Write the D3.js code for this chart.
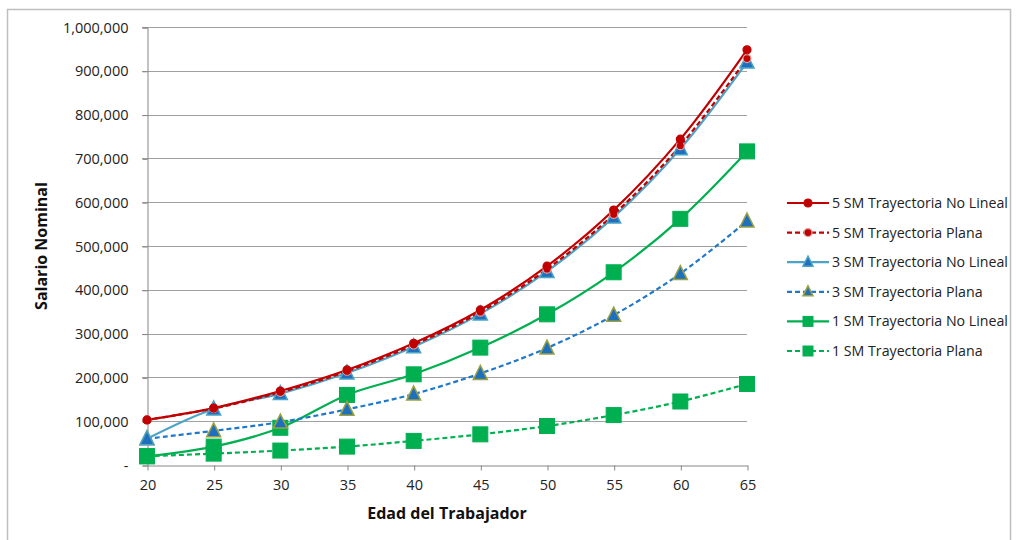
<!DOCTYPE html>
<html><head><meta charset="utf-8">
<script src="https://cdn.jsdelivr.net/npm/d3@7"></script>
<style>body{margin:0;background:#fff}text{font-family:"Open Sans","Noto Sans",sans-serif}</style>
</head><body><svg id="c" width="1016" height="540"></svg>
<script>
const ages = [20,25,30,35,40,45,50,55,60,65];
const yTicks = [0,100000,200000,300000,400000,500000,600000,700000,800000,900000,1000000];
const s5NoLineal = [103000,130000,169000,217000,278000,354000,454000,582000,744000,948000];
const s5Plana    = [103000,129000,166000,214000,274000,349000,447000,572000,729000,928000];
const s3NoLineal = [60000,128000,163000,210000,270000,345000,442000,566000,722000,920000];
const s3Plana    = [60000,78000,98000,127000,162000,209000,267000,342000,437000,557000];
const s1NoLineal = [20000,42000,85000,160000,207000,268000,344000,440000,562000,716000];
const s1Plana    = [20000,26000,33000,42000,55000,70000,89000,114000,145000,185000];
const names = ["5 SM Trayectoria No Lineal","5 SM Trayectoria Plana","3 SM Trayectoria No Lineal","3 SM Trayectoria Plana","1 SM Trayectoria No Lineal","1 SM Trayectoria Plana"];

const series = [
 {name:names[0], v:s5NoLineal, color:"#C00000", dash:null, marker:"circle", mfill:"#C00000", mstroke:"#C00000", ms:4},
 {name:names[1], v:s5Plana, color:"#C00000", dash:"5,3", marker:"circle", mfill:"#C00000", mstroke:"#E6A0A0", ms:4},
 {name:names[2], v:s3NoLineal, color:"#4BA3C6", dash:null, marker:"triangle", mfill:"#1F6FBF", mstroke:"#4BA3C6", ms:7},
 {name:names[3], v:s3Plana, color:"#1F78C8", dash:"5,3", marker:"triangle", mfill:"#1F6FBF", mstroke:"#9BA040", ms:7},
 {name:names[4], v:s1NoLineal, color:"#00B050", dash:null, marker:"square", mfill:"#00B050", mstroke:"#00B050", ms:7.5},
 {name:names[5], v:s1Plana, color:"#00B050", dash:"5,3", marker:"square", mfill:"#00B050", mstroke:"#00B050", ms:7.5}
];

const svg = d3.select("#c");
svg.append("rect").attr("x",7.5).attr("y",9.5).attr("width",1003).attr("height",540).attr("fill","none").attr("stroke","#BFBFBF").attr("stroke-width",1.5);

const x = d3.scaleLinear().domain([20,65]).range([147,747]);
const y = d3.scaleLinear().domain([0,1000000]).range([465,27]);

// gridlines
svg.append("g").selectAll("line").data(yTicks.slice(1)).join("line")
  .attr("x1",142).attr("x2",747).attr("y1",d=>Math.round(y(d))+0.5).attr("y2",d=>Math.round(y(d))+0.5)
  .attr("stroke","#A0A0A0").attr("stroke-width",1);

const fmt = d => d===0 ? "-" : d3.format(",")(d);
const ya = svg.append("g").attr("transform","translate(147.5,0.5)")
  .call(d3.axisLeft(y).tickValues(yTicks).tickFormat(fmt).tickSize(5).tickPadding(14));
ya.select(".domain").attr("stroke","#868686");
ya.selectAll(".tick line").attr("stroke","#868686");
ya.selectAll("text").attr("font-size",14.5).attr("fill","#222");

const xa = svg.append("g").attr("transform","translate(0.5,465.5)")
  .call(d3.axisBottom(x).tickValues(ages).tickSize(5).tickPadding(9).tickSizeOuter(0));
xa.select(".domain").attr("stroke","#868686");
xa.selectAll(".tick line").attr("stroke","#868686");
xa.selectAll("text").attr("font-size",14.5).attr("fill","#222");

svg.append("text").attr("transform","translate(47,246) rotate(-90)").attr("text-anchor","middle")
  .attr("font-size",16).attr("font-weight","bold").attr("fill","#111").text("Salario Nominal");
svg.append("text").attr("x",447).attr("y",519).attr("text-anchor","middle")
  .attr("font-size",16).attr("font-weight","bold").attr("fill","#111").text("Edad del Trabajador");

const line = d3.line().x((d,i)=>x(ages[i])).y(d=>y(d)).curve(d3.curveCatmullRom.alpha(0.5));

function marker(g, s, cx, cy){
  if(s.marker==="circle"){
    g.append("circle").attr("cx",cx).attr("cy",cy).attr("r",s.ms).attr("fill",s.mfill).attr("stroke",s.mstroke).attr("stroke-width",1.2);
  } else if(s.marker==="triangle"){
    const h=s.ms;
    g.append("path").attr("d",`M${cx},${cy-h-1}L${cx+h},${cy+h-1}L${cx-h},${cy+h-1}Z`).attr("fill",s.mfill).attr("stroke",s.mstroke).attr("stroke-width",1.5);
  } else {
    g.append("rect").attr("x",cx-s.ms).attr("y",cy-s.ms).attr("width",2*s.ms).attr("height",2*s.ms).attr("fill",s.mfill).attr("stroke",s.mstroke).attr("stroke-width",1);
  }
}

const order = [5,4,3,2,1,0];
order.forEach(i=>{
  const s = series[i];
  svg.append("path").attr("d",line(s.v)).attr("fill","none").attr("stroke",s.color).attr("stroke-width",2.2)
    .attr("stroke-dasharray",s.dash);
});
order.forEach(i=>{
  const s = series[i];
  const g = svg.append("g");
  s.v.forEach((v,j)=>marker(g,s,x(ages[j]),y(v)));
});

// legend
const lg = svg.append("g");
series.forEach((s,i)=>{
  const ly = 203 + i*29.6;
  lg.append("line").attr("x1",787).attr("x2",829).attr("y1",ly).attr("y2",ly).attr("stroke",s.color).attr("stroke-width",2.2).attr("stroke-dasharray",s.dash);
  const ms = {...s, ms: s.marker==="circle"?4:5};
  marker(lg, ms, 808, ly);
  lg.append("text").attr("x",832).attr("y",ly+5).attr("font-size",14.2).attr("fill","#222").text(s.name);
});
</script></body></html>
